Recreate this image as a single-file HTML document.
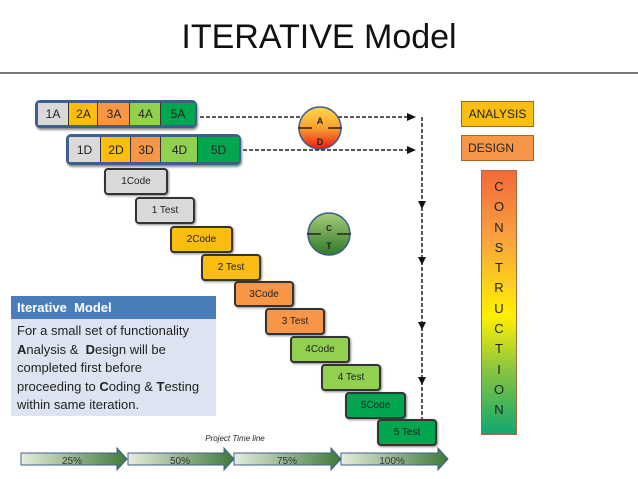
<!DOCTYPE html>
<html><head><meta charset="utf-8"><style>
body{margin:0;width:638px;height:479px;background:#fff;position:relative;overflow:hidden;font-family:"Liberation Sans",sans-serif}
.a{position:absolute;box-sizing:border-box}
.frame{border:3px solid #3c5f8c;border-radius:5px;background:#b8cce4;box-shadow:1px 2px 2px #888}
.cell{position:absolute;top:0;bottom:0;border-left:1.5px solid #333;font-size:12px;display:flex;align-items:center;justify-content:center;color:#222}
.st{position:absolute;box-sizing:border-box;border:2px solid #333;border-radius:4px;font-size:10px;display:flex;align-items:center;justify-content:center;color:#222;box-shadow:1px 1px 2px #888}
</style></head><body>
<div class="a" style="left:0;top:18px;width:638px;text-align:center;font-size:34px;color:#111">ITERATIVE Model</div>
<div class="a" style="left:0;top:72px;width:638px;height:2px;background:#777"></div>

<div class="a frame" style="left:35px;top:100px;width:162px;height:28px">
<div class="cell" style="left:0;width:30px;background:#d9d9d9;border-left:none">1A</div>
<div class="cell" style="left:30px;width:29px;background:#fbbd10">2A</div>
<div class="cell" style="left:59px;width:32px;background:#f79646">3A</div>
<div class="cell" style="left:91px;width:31px;background:#92d050">4A</div>
<div class="cell" style="left:122px;width:34px;background:#00a650">5A</div>
</div>
<div class="a frame" style="left:66px;top:134px;width:175px;height:31px">
<div class="cell" style="left:0;width:31px;background:#d9d9d9;border-left:none">1D</div>
<div class="cell" style="left:31px;width:30px;background:#fbbd10">2D</div>
<div class="cell" style="left:61px;width:30px;background:#f79646">3D</div>
<div class="cell" style="left:91px;width:37px;background:#92d050">4D</div>
<div class="cell" style="left:128px;width:41px;background:#00a650">5D</div>
</div>

<svg class="a" style="left:0;top:0" width="638" height="479">
<defs>
<linearGradient id="ad" x1="0" y1="0" x2="0" y2="1"><stop offset="0" stop-color="#ffd84a"/><stop offset="0.5" stop-color="#f9a030"/><stop offset="1" stop-color="#f01818"/></linearGradient>
<linearGradient id="ct" x1="0" y1="0" x2="0" y2="1"><stop offset="0" stop-color="#a6cc78"/><stop offset="1" stop-color="#2f7a2a"/></linearGradient>
<linearGradient id="tl" x1="0" y1="0" x2="1" y2="0"><stop offset="0" stop-color="#e6eedc"/><stop offset="1" stop-color="#3f7a3a"/></linearGradient>
</defs>
<g stroke="#222" stroke-width="1.5" stroke-dasharray="4,2" fill="none">
<line x1="200" y1="117" x2="408" y2="117"/>
<line x1="243" y1="150" x2="408" y2="150"/>
<line x1="422" y1="117" x2="422" y2="440"/>
</g>
<g fill="#111">
<polygon points="416,117 407,113 407,121"/>
<polygon points="416,150 407,146 407,154"/>
<polygon points="422,209 418,201 426,201"/>
<polygon points="422,265 418,257 426,257"/>
<polygon points="422,330 418,322 426,322"/>
<polygon points="422,385 418,377 426,377"/>
<polygon points="422,432 418,424 426,424"/>
</g>
<circle cx="320" cy="128" r="21" fill="url(#ad)" stroke="#3c5f8c" stroke-width="1.5"/>
<line x1="298" y1="128" x2="312" y2="128" stroke="#222" stroke-width="1.5"/><line x1="328" y1="128" x2="342" y2="128" stroke="#222" stroke-width="1.5"/>
<text x="320" y="124" font-size="9" font-weight="bold" text-anchor="middle" fill="#222">A</text>
<text x="320" y="145" font-size="9" font-weight="bold" text-anchor="middle" fill="#222">D</text>
<circle cx="329" cy="234" r="21" fill="url(#ct)" stroke="#3c5f8c" stroke-width="1.5"/>
<line x1="307" y1="234" x2="321" y2="234" stroke="#222" stroke-width="1.5"/><line x1="337" y1="234" x2="351" y2="234" stroke="#222" stroke-width="1.5"/>
<text x="329" y="231" font-size="8" font-weight="bold" text-anchor="middle" fill="#222">C</text>
<text x="329" y="249" font-size="9" font-weight="bold" text-anchor="middle" fill="#222">T</text>
<g stroke="#3c5f8c" stroke-width="1" fill="url(#tl)">
<polygon points="21,453 117,453 117,448 127,459 117,470 117,465 21,465"/>
<polygon points="128,453 224,453 224,448 234,459 224,470 224,465 128,465"/>
<polygon points="234,453 331,453 331,448 341,459 331,470 331,465 234,465"/>
<polygon points="341,453 438,453 438,448 448,459 438,470 438,465 341,465"/>
</g>
<g font-size="10" fill="#333" text-anchor="middle">
<text x="72" y="464">25%</text><text x="180" y="464">50%</text><text x="287" y="464">75%</text><text x="392" y="464">100%</text>
</g>
<text x="235" y="441" font-size="8" font-style="italic" text-anchor="middle" fill="#222">Project Time line</text>
</svg>

<div class="st" style="left:104px;top:168px;width:64px;height:27px;background:#d9d9d9">1Code</div>
<div class="st" style="left:135px;top:197px;width:60px;height:27px;background:#d9d9d9">1 Test</div>
<div class="st" style="left:170px;top:226px;width:63px;height:27px;background:#fbbd10">2Code</div>
<div class="st" style="left:201px;top:254px;width:60px;height:27px;background:#fbbd10">2 Test</div>
<div class="st" style="left:234px;top:281px;width:60px;height:26px;background:#f79646">3Code</div>
<div class="st" style="left:265px;top:308px;width:60px;height:27px;background:#f79646">3 Test</div>
<div class="st" style="left:290px;top:336px;width:60px;height:27px;background:#92d050">4Code</div>
<div class="st" style="left:321px;top:364px;width:60px;height:27px;background:#92d050">4 Test</div>
<div class="st" style="left:345px;top:392px;width:61px;height:27px;background:#00a650">5Code</div>
<div class="st" style="left:377px;top:419px;width:60px;height:27px;background:#00a650">5 Test</div>

<div class="a" style="left:11px;top:296px;width:205px;height:23px;background:#4a7ebb;color:#fff;font-weight:bold;font-size:13px;padding:4px 0 0 6px">Iterative&nbsp; Model</div>
<div class="a" style="left:11px;top:319px;width:205px;height:97px;background:#dbe4f0;color:#222;font-size:13px;line-height:18.5px;padding:3px 0 0 6px">For a small set of functionality<br><b>A</b>nalysis &amp;&nbsp; <b>D</b>esign will be<br>completed first before<br>proceeding to <b>C</b>oding &amp; <b>T</b>esting<br>within same iteration.</div>

<div class="a" style="left:461px;top:101px;width:73px;height:26px;background:#fbbd10;border:1.5px solid #a06a20;font-size:12px;display:flex;align-items:center;justify-content:center;color:#222">ANALYSIS</div>
<div class="a" style="left:461px;top:135px;width:73px;height:26px;background:#f79646;border:1.5px solid #a06a20;font-size:12px;display:flex;align-items:center;padding-left:6px;color:#222">DESIGN</div>
<div class="a" style="left:481px;top:170px;width:36px;height:265px;border:1.5px solid #a07040;background:linear-gradient(#f26a3a,#f9a040 25%,#fff000 55%,#8cc63f 75%,#10a870);font-size:13px;color:#222;text-align:center;line-height:20.3px;padding-top:6px">C<br>O<br>N<br>S<br>T<br>R<br>U<br>C<br>T<br>I<br>O<br>N</div>
</body></html>
